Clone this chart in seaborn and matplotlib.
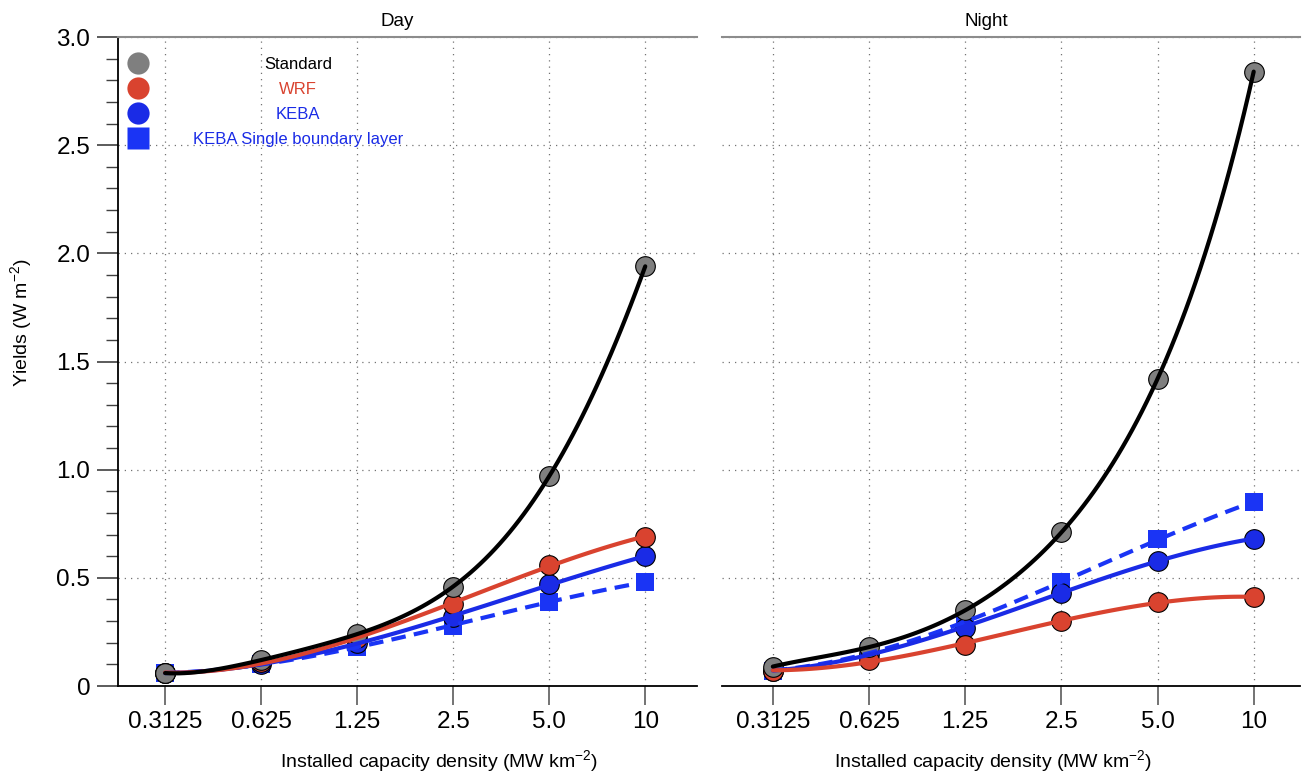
import numpy as np
import pandas as pd
import seaborn as sns
import matplotlib.pyplot as plt
from matplotlib.lines import Line2D
from matplotlib.ticker import MultipleLocator

# 数据
densities = ['0.3125', '0.625', '1.25', '2.5', '5.0', '10']
series_names = ['Standard', 'WRF', 'KEBA', 'KEBA Single boundary layer']

day_standard = [0.06, 0.12, 0.24, 0.46, 0.97, 1.94]
day_wrf = [0.06, 0.11, 0.22, 0.38, 0.56, 0.69]
day_keba = [0.06, 0.10, 0.20, 0.32, 0.47, 0.60]
day_sbl = [0.06, 0.10, 0.18, 0.28, 0.39, 0.48]

night_standard = [0.09, 0.18, 0.35, 0.71, 1.42, 2.84]
night_wrf = [0.07, 0.12, 0.19, 0.30, 0.39, 0.41]
night_keba = [0.07, 0.15, 0.27, 0.43, 0.58, 0.68]
night_sbl = [0.07, 0.16, 0.29, 0.48, 0.68, 0.85]

sns.set_theme(style='ticks')
plt.rcParams['font.family'] = ['Liberation Sans', 'DejaVu Sans']
plt.rcParams['mathtext.default'] = 'regular'
for k in ['text.color', 'axes.labelcolor', 'xtick.labelcolor', 'ytick.labelcolor', 'axes.titlecolor']:
    plt.rcParams[k] = 'black'

GRAY = '#7f7f7f'
RED = '#d9432f'
BLUE = '#1a2be6'
SQ_BLUE = '#1a34f5'

# 样式：颜色、点形、线型、拟合阶数
styles = {
    'Standard': dict(face=GRAY, line='black', marker='o', edge='black', ls='-', order=5),
    'WRF': dict(face=RED, line=RED, marker='o', edge='black', ls='-', order=3),
    'KEBA': dict(face=BLUE, line=BLUE, marker='o', edge='black', ls='-', order=3),
    'KEBA Single boundary layer': dict(face=SQ_BLUE, line=SQ_BLUE, marker='s', edge='none', ls=(0, (3.5, 2)), order=3),
}


def make_df(values):
    rows = []
    for name, vals in zip(series_names, values):
        for i, (d, v) in enumerate(zip(densities, vals)):
            rows.append({'series': name, 'idx': i, 'density': d, 'yield': v})
    return pd.DataFrame(rows)


day = make_df([day_standard, day_wrf, day_keba, day_sbl])
night = make_df([night_standard, night_wrf, night_keba, night_sbl])

fig = plt.figure(figsize=(13.03, 7.71), dpi=100)
ax1 = fig.add_axes([0.0906, 0.1102, 0.4444, 0.8418])
ax2 = fig.add_axes([0.554, 0.1102, 0.4436, 0.8418])

draw_order = ['KEBA Single boundary layer', 'KEBA', 'WRF', 'Standard']

panels = [(ax1, day, 'Day', 0.482, 0.554, (-0.49, 5.54)),
          (ax2, night, 'Night', 0.458, 0.469, (-0.53, 5.48))]

for ax, df, title, tx, lx, xlim in panels:
    # 先画点
    for name in draw_order:
        st = styles[name]
        sub = df[df['series'] == name]
        sns.scatterplot(data=sub, x='idx', y='yield', ax=ax, color=st['face'], marker=st['marker'],
                        s=200 if st['marker'] == 'o' else 170, edgecolor=st['edge'], linewidth=0.8,
                        zorder=3, legend=False)
    # 再画平滑曲线
    for name in draw_order:
        st = styles[name]
        sub = df[df['series'] == name]
        sns.regplot(data=sub, x='idx', y='yield', ax=ax, order=st['order'], ci=None, scatter=False,
                    truncate=True, line_kws=dict(color=st['line'], lw=3, ls=st['ls'], zorder=4))

    ax.set_xlim(*xlim)
    ax.set_ylim(0, 3.0)
    ax.set_xticks(range(len(densities)), densities)
    ax.yaxis.set_major_locator(MultipleLocator(0.5))
    ax.yaxis.set_minor_locator(MultipleLocator(0.1))
    ax.grid(True, which='major', ls=(0, (1, 4)), color='0.45', lw=0.9)
    ax.set_title(title, fontsize=13.5, x=tx, pad=8)
    ax.set_xlabel('Installed capacity density (MW km$^{-2}$)', fontsize=14)
    ax.xaxis.set_label_coords(lx, -0.095)
    ax.tick_params(axis='x', which='major', length=14, width=1.4, color='0.45', labelsize=17.5, pad=4)
    ax.spines['top'].set_color('0.55')
    ax.spines['top'].set_linewidth(1.5)
    ax.spines['right'].set_visible(False)
    ax.spines['bottom'].set_linewidth(1.3)
    ax.spines['bottom'].set_color('black')

ax1.set_ylabel('Yields (W m$^{-2}$)', fontsize=14)
ax1.yaxis.set_label_coords(-0.146, 0.56)
ax1.set_yticks(np.arange(0, 3.01, 0.5), ['0', '0.5', '1.0', '1.5', '2.0', '2.5', '3.0'])
ax1.tick_params(axis='y', which='major', length=15, width=1.2, color='0.25', labelsize=17.5, pad=5)
ax1.tick_params(axis='y', which='minor', length=9, width=1.0, color='0.25')
ax1.spines['left'].set_linewidth(1.3)
ax1.spines['left'].set_color('black')

ax2.set_ylabel('')
ax2.tick_params(axis='y', which='both', left=False, labelleft=False)
ax2.spines['left'].set_visible(False)

# 图例：点在左，文字居中并着色
handles = []
for name in series_names:
    st = styles[name]
    handles.append(Line2D([], [], ls='none', marker=st['marker'], markersize=16,
                          markerfacecolor=st['face'], markeredgecolor='none'))
leg = ax1.legend(handles, series_names, loc='upper left', bbox_to_anchor=(-0.012, 0.997), frameon=False,
                 fontsize=12, handlelength=1.0, handletextpad=1.0, labelspacing=0.6,
                 borderpad=0.5, borderaxespad=0.6)
fig.canvas.draw()
text_colors = ['black', RED, BLUE, BLUE]
inv = ax1.transAxes.inverted()
for t, c in zip(leg.get_texts(), text_colors):
    bb = t.get_window_extent()
    ymid = inv.transform(((bb.x0 + bb.x1) / 2, (bb.y0 + bb.y1) / 2))[1]
    ax1.text(0.311, ymid, t.get_text(), transform=ax1.transAxes, ha='center', va='center',
             fontsize=12, color=c)
    t.set_visible(False)

fig.savefig('out.png', dpi=100)
